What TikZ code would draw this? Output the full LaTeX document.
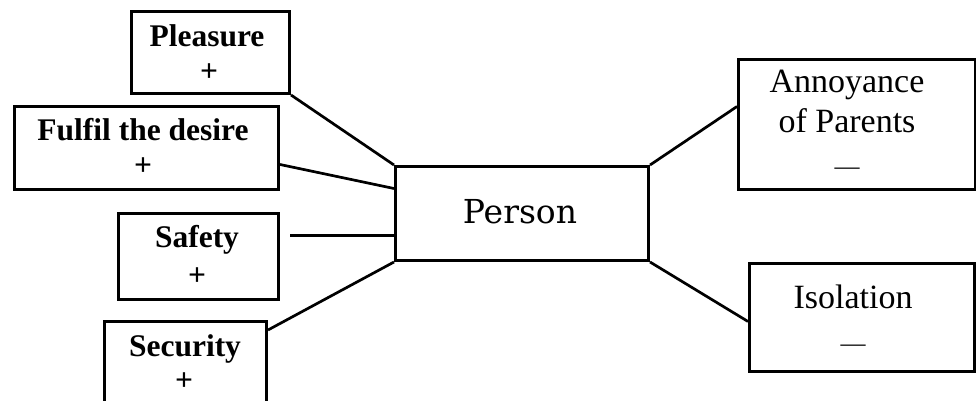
\documentclass[tikz,border=0pt]{standalone}
\usepackage{fontspec}
\setmainfont{Liberation Serif}
\newfontfamily\personfont{DejaVu Serif}
\usetikzlibrary{calc}
\begin{document}
\begin{tikzpicture}[x=1pt,y=-1pt,
  box/.style={draw, line width=3pt, rectangle, inner sep=0pt, anchor=north west},
  conn/.style={line width=2.7pt},
  boldtxt/.style={inner sep=0pt, anchor=base, font=\bfseries\fontsize{31.5}{36}\selectfont},
  plaintxt/.style={inner sep=0pt, anchor=base, font=\fontsize{34}{40}\selectfont},
  signtxt/.style={inner sep=0pt, anchor=center},
]
\useasboundingbox (0,0) rectangle (976,401);
\clip (0,0) rectangle (976,401);
% boxes
\node[box, minimum width=158pt, minimum height=82pt] (Pl) at (130,10) {};
\node[box, minimum width=264pt, minimum height=83pt] (Fu) at (13,105) {};
\node[box, minimum width=160pt, minimum height=86pt] (Sa) at (117,212) {};
\node[box, minimum width=162pt, minimum height=100pt] (Se) at (103,320) {};
\node[box, minimum width=253pt, minimum height=94pt] (Pe) at (394,165) {};
\node[box, minimum width=237pt, minimum height=130pt] (An) at (737,58) {};
\node[box, minimum width=225pt, minimum height=108pt] (Is) at (748,262) {};
% texts
\node[boldtxt] (tPl) at (207,47) {Pleasure};
\node[signtxt, font=\bfseries\fontsize{31.5}{36}\selectfont] (sPl) at (209,73) {+};
\node[boldtxt] (tFu) at (143,140) {Fulfil the desire};
\node[signtxt, font=\bfseries\fontsize{31.5}{36}\selectfont] (sFu) at (143,167) {+};
\node[boldtxt] (tSa) at (197,247) {Safety};
\node[signtxt, font=\bfseries\fontsize{31.5}{36}\selectfont] (sSa) at (197,277) {+};
\node[boldtxt] (tSe) at (185,356) {Security};
\node[signtxt, font=\bfseries\fontsize{31.5}{36}\selectfont] (sSe) at (184,382) {+};
\node[inner sep=0pt, anchor=base, font=\personfont\fontsize{33}{38}\selectfont] (tPe) at (520,223) {Person};
\node[plaintxt] (tAn1) at (847,93) {Annoyance};
\node[plaintxt] (tAn2) at (847,132) {of Parents};
\node[signtxt, font=\fontsize{25}{30}\selectfont] (sAn) at (847,171) {\textemdash};
\node[plaintxt] (tIs) at (853,308) {Isolation};
\node[signtxt, font=\fontsize{25}{30}\selectfont] (sIs) at (853,348) {\textemdash};
% connectors
\draw[conn] (Pl.south east) -- (Pe.north west);
\draw[conn] ($(Fu.east)+(0,16.5)$) -- ($(Pe.west)+(0,-25)$);
\draw[conn, shorten <=10pt] ($(Sa.east)+(0,-21)$) -- ($(Pe.west)+(0,22)$);
\draw[conn] ($(Se.north east)+(0,10)$) -- (Pe.south west);
\draw[conn] (Pe.north east) -- ($(An.west)+(0,-18)$);
\draw[conn] (Pe.south east) -- ($(Is.west)+(0,4)$);
\end{tikzpicture}
\end{document}
